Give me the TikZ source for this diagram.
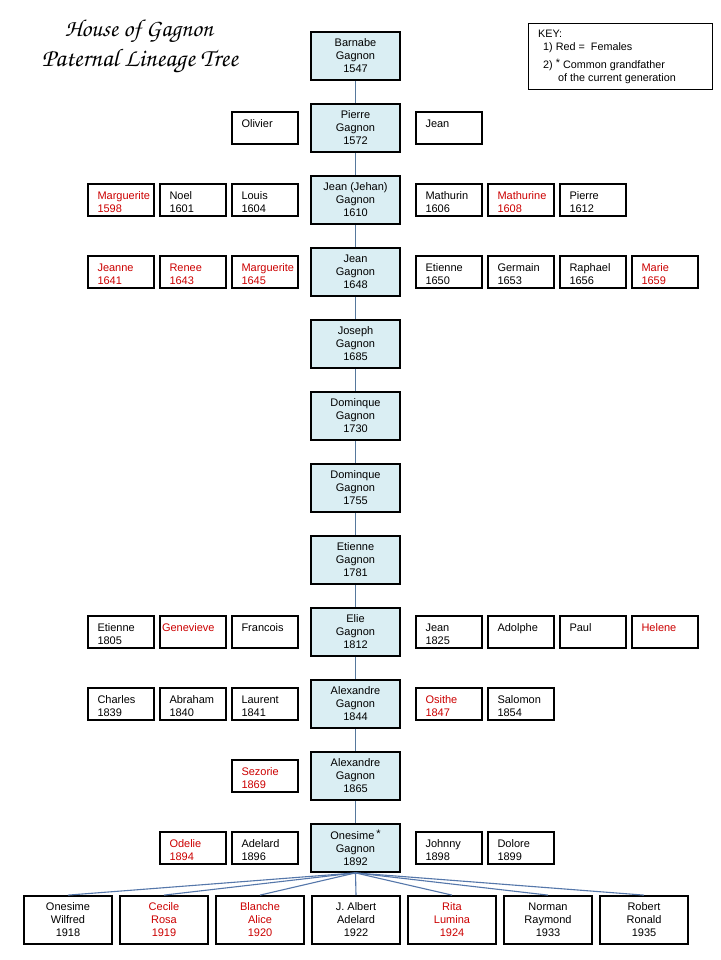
\documentclass[tikz,border=0pt]{standalone}
\usepackage{fontspec}
\setmainfont{Liberation Sans}
\usepackage{graphicx}
\newcommand\fs{\fontsize{11}{13}\selectfont}
\newcommand\keyfs{\fontsize{10.8}{13}\selectfont}
\newcommand\titlefont{\fontencoding{OT1}\fontfamily{pzc}\fontseries{mb}\fontshape{it}\selectfont}
\newcommand\starmark{\raisebox{1.5pt}{*}}
\definecolor{mainfill}{HTML}{DAEEF3}
\definecolor{femred}{HTML}{CC0000}
\definecolor{linkblue}{HTML}{56789C}
\definecolor{fanblue}{HTML}{5577AA}
\begin{document}
\begin{tikzpicture}[x=1pt,y=-1pt,
  mainbox/.style={draw=black,line width=1.8pt,fill=mainfill,minimum width=89pt,minimum height=48pt,inner sep=0pt,align=center,font=\fs},
  side/.style={draw=black,line width=1.8pt,fill=white,minimum height=32pt,text width=47pt,inner xsep=9.5pt,inner ysep=0pt,align=left,font=\fs,
    execute at begin node={\rule{0pt}{12pt}}},
  kid/.style={draw=black,line width=1.8pt,fill=white,minimum width=88pt,minimum height=48pt,inner sep=0pt,align=center,font=\fs},
  fem/.style={text=femred},
  link/.style={draw=linkblue,line width=1pt},
  fan/.style={draw=fanblue,line width=1.1pt},
  keytext/.style={anchor=west,inner sep=0pt,font=\keyfs}]
\useasboundingbox[fill=white] (0,0) rectangle (720,960);

% title
\node (t1) at (139,32) {\resizebox{148pt}{!}{\titlefont House of Gagnon}};
\node (t2) at (140,61) {\resizebox{196pt}{!}{\titlefont Paternal Lineage Tree}};

% key
\node[draw=black,line width=1pt,minimum width=184pt,minimum height=66pt,inner sep=0pt] (key) at (620,57) {};
\node[keytext] (k0) at (538,34) {KEY:};
\node[keytext] (k1) at (543,48) {1)\ Red =\ \ Females};
\node[keytext] (k2) at (543,65) {2)\ \starmark\ Common grandfather};
\node[keytext] (k3) at (558,79) {of the current generation};

% main line
\node[mainbox] (m1) at (355.5,56) {Barnabe\\Gagnon\\1547};
\node[mainbox] (m2) at (355.5,128) {Pierre\\Gagnon\\1572};
\node[mainbox] (m3) at (355.5,200) {Jean (Jehan)\\Gagnon\\1610};
\node[mainbox] (m4) at (355.5,272) {Jean\\Gagnon\\1648};
\node[mainbox] (m5) at (355.5,344) {Joseph\\Gagnon\\1685};
\node[mainbox] (m6) at (355.5,416) {Dominque\\Gagnon\\1730};
\node[mainbox] (m7) at (355.5,488) {Dominque\\Gagnon\\1755};
\node[mainbox] (m8) at (355.5,560) {Etienne\\Gagnon\\1781};
\node[mainbox] (m9) at (355.5,632) {Elie\\Gagnon\\1812};
\node[mainbox] (m10) at (355.5,704) {Alexandre\\Gagnon\\1844};
\node[mainbox] (m11) at (355.5,776) {Alexandre\\Gagnon\\1865};
\node[mainbox] (m12) at (355.5,848) {Onesime\,\starmark\\Gagnon\\1892};

\foreach \a/\b in {m1/m2,m2/m3,m3/m4,m4/m5,m5/m6,m6/m7,m7/m8,m8/m9,m9/m10,m10/m11,m11/m12}
  \draw[link] (\a.south) -- (\b.north);

% row 2
\node[side] (s2a) at (265,128) {Olivier\\\mbox{}};
\node[side] (s2b) at (449,128) {Jean\\\mbox{}};
% row 3
\node[side,fem] (s3a) at (121,200) {Marguerite\\1598};
\node[side] (s3b) at (193,200) {Noel\\1601};
\node[side] (s3c) at (265,200) {Louis\\1604};
\node[side] (s3d) at (449,200) {Mathurin\\1606};
\node[side,fem] (s3e) at (521,200) {Mathurine\\1608};
\node[side] (s3f) at (593,200) {Pierre\\1612};
% row 4
\node[side,fem] (s4a) at (121,272) {Jeanne\\1641};
\node[side,fem] (s4b) at (193,272) {Renee\\1643};
\node[side,fem] (s4c) at (265,272) {Marguerite\\1645};
\node[side] (s4d) at (449,272) {Etienne\\1650};
\node[side] (s4e) at (521,272) {Germain\\1653};
\node[side] (s4f) at (593,272) {Raphael\\1656};
\node[side,fem] (s4g) at (665,272) {Marie\\1659};
% row 9
\node[side] (s9a) at (121,632) {Etienne\\1805};
\node[side,fem,inner xsep=2pt,text width=62pt] (s9b) at (193,632) {Genevieve\\\mbox{}};
\node[side] (s9c) at (265,632) {Francois\\\mbox{}};
\node[side] (s9d) at (449,632) {Jean\\1825};
\node[side] (s9e) at (521,632) {Adolphe\\\mbox{}};
\node[side] (s9f) at (593,632) {Paul\\\mbox{}};
\node[side,fem] (s9g) at (665,632) {Helene\\\mbox{}};
% row 10
\node[side] (s10a) at (121,704) {Charles\\1839};
\node[side] (s10b) at (193,704) {Abraham\\1840};
\node[side] (s10c) at (265,704) {Laurent\\1841};
\node[side,fem] (s10d) at (449,704) {Osithe\\1847};
\node[side] (s10e) at (521,704) {Salomon\\1854};
% row 11
\node[side,fem] (s11a) at (265,776) {Sezorie\\1869};
% row 12
\node[side,fem] (s12a) at (193,848) {Odelie\\1894};
\node[side] (s12b) at (265,848) {Adelard\\1896};
\node[side] (s12c) at (449,848) {Johnny\\1898};
\node[side] (s12d) at (521,848) {Dolore\\1899};

% children
\node[kid] (b1) at (68,920) {Onesime\\Wilfred\\1918};
\node[kid,fem] (b2) at (164,920) {Cecile\\Rosa\\1919};
\node[kid,fem] (b3) at (260,920) {Blanche\\Alice\\1920};
\node[kid] (b4) at (356,920) {J. Albert\\Adelard\\1922};
\node[kid,fem] (b5) at (452,920) {Rita\\Lumina\\1924};
\node[kid] (b6) at (548,920) {Norman\\Raymond\\1933};
\node[kid] (b7) at (644,920) {Robert\\Ronald\\1935};

\foreach \b in {b1,b2,b3,b4,b5,b6,b7}
  \draw[fan] (m12.south) -- (\b.north);
\end{tikzpicture}
\end{document}
